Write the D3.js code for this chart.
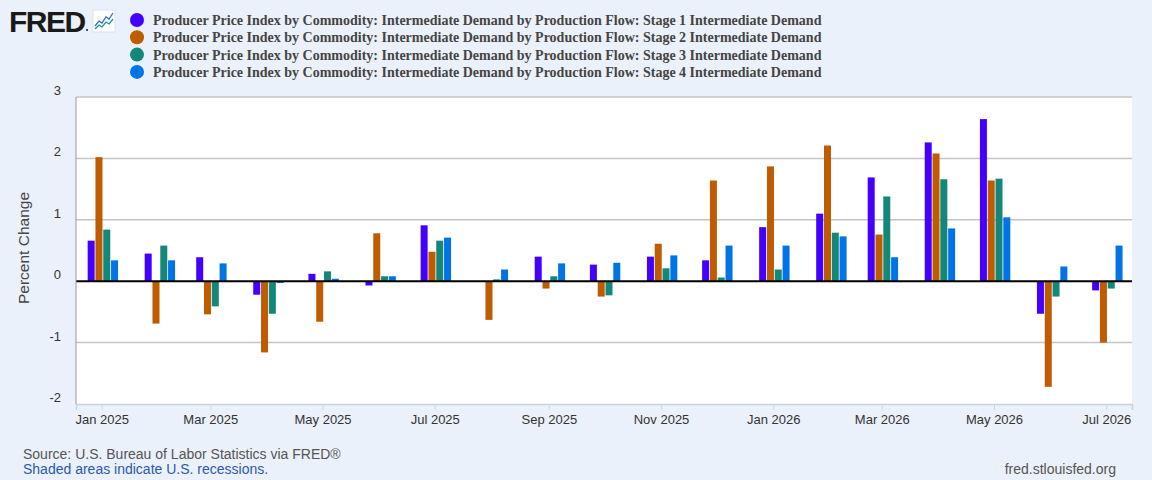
<!DOCTYPE html>
<html>
<head>
<meta charset="utf-8">
<script src="https://cdn.jsdelivr.net/npm/d3@7"></script>
<style>
  body { margin: 0; background: #eaf1fa; }
  svg { display: block; }
</style>
</head>
<body>
<svg id="chart" width="1152" height="480"></svg>
<script>
// Months shown on the chart
var months = ["2025-01","2025-02","2025-03","2025-04","2025-05","2025-06","2025-07","2025-08","2025-09","2025-10",
  "2025-11","2025-12","2026-01","2026-02","2026-03","2026-04","2026-05","2026-06","2026-07"];

// Percent change, one array per series
var stage1 = [0.66, 0.45, 0.39, -0.22, 0.12, -0.07, 0.91, 0.00, 0.40, 0.27, 0.40, 0.34, 0.88, 1.10, 1.69, 2.26, 2.64, -0.53, -0.15];
var stage2 = [2.02, -0.69, -0.54, -1.16, -0.66, 0.78, 0.48, -0.63, -0.12, -0.25, 0.61, 1.64, 1.87, 2.21, 0.76, 2.08, 1.64, -1.72, -1.00];
var stage3 = [0.84, 0.58, -0.41, -0.53, 0.16, 0.08, 0.66, 0.03, 0.08, -0.23, 0.21, 0.06, 0.19, 0.79, 1.38, 1.66, 1.67, -0.25, -0.12];
var stage4 = [0.34, 0.34, 0.29, -0.03, 0.04, 0.08, 0.71, 0.19, 0.29, 0.30, 0.42, 0.58, 0.58, 0.73, 0.39, 0.86, 1.04, 0.24, 0.58];

var seriesNames = [
  "Producer Price Index by Commodity: Intermediate Demand by Production Flow: Stage 1 Intermediate Demand",
  "Producer Price Index by Commodity: Intermediate Demand by Production Flow: Stage 2 Intermediate Demand",
  "Producer Price Index by Commodity: Intermediate Demand by Production Flow: Stage 3 Intermediate Demand",
  "Producer Price Index by Commodity: Intermediate Demand by Production Flow: Stage 4 Intermediate Demand"
];
var seriesColours = ["#4400ff", "#bf5b00", "#13877a", "#0073e6"];

var yTicks = [-2, -1, 0, 1, 2, 3];
var xTickMonths = ["2025-01","2025-03","2025-05","2025-07","2025-09","2025-11","2026-01","2026-03","2026-05","2026-07"];

var parseMonth = d3.timeParse("%Y-%m");
var allSeries = [stage1, stage2, stage3, stage4];

var svg = d3.select("#chart");
var plot = { left: 76, right: 1132, top: 97, bottom: 404 };

var x = d3.scaleTime()
  .domain([d3.timeDay.offset(parseMonth("2025-01"), -13.5), d3.timeDay.offset(parseMonth("2026-07"), 14.5)])
  .range([plot.left, plot.right]);

var y = d3.scaleLinear()
  .domain([-2, 3])
  .range([plot.bottom, plot.top]);

// plot background
svg.append("rect")
  .attr("x", plot.left).attr("y", plot.top)
  .attr("width", plot.right - plot.left).attr("height", plot.bottom - plot.top)
  .attr("fill", "white");

// grid lines
svg.append("g").selectAll("line")
  .data(yTicks.filter(function (t) { return t !== 0 && t !== -2; }))
  .enter().append("line")
  .attr("x1", plot.left).attr("x2", plot.right)
  .attr("y1", function (t) { return y(t); })
  .attr("y2", function (t) { return y(t); })
  .attr("stroke", "#c4c4c4")
  .attr("stroke-width", 1.5);

// y labels
svg.append("g").selectAll("text")
  .data(yTicks)
  .enter().append("text")
  .attr("x", 61)
  .attr("y", function (t) { return y(t) - 2; })
  .attr("text-anchor", "end")
  .attr("font-family", "Liberation Sans, Arial, sans-serif")
  .attr("font-size", 13)
  .attr("fill", "#333")
  .text(function (t) { return t; });

svg.append("text")
  .attr("transform", "translate(29,248) rotate(-90)")
  .attr("text-anchor", "middle")
  .attr("font-family", "Liberation Sans, Arial, sans-serif")
  .attr("font-size", 15.5)
  .attr("fill", "#444")
  .text("Percent Change");

// bars
var barW = 7, barStep = 7.8;
var barGroup = svg.append("g");
allSeries.forEach(function (vals, s) {
  barGroup.selectAll("rect.s" + s)
    .data(vals)
    .enter().append("rect")
    .attr("class", "s" + s)
    .attr("x", function (v, i) { return x(parseMonth(months[i])) + 1.5 - 2 * barStep + s * barStep; })
    .attr("y", function (v) { return Math.min(y(v), y(0)); })
    .attr("width", barW)
    .attr("height", function (v) { return Math.abs(y(v) - y(0)); })
    .attr("fill", seriesColours[s]);
});

// zero line
svg.append("line")
  .attr("x1", plot.left).attr("x2", plot.right)
  .attr("y1", y(0)).attr("y2", y(0))
  .attr("stroke", "black").attr("stroke-width", 2);

// axis lines
svg.append("line")
  .attr("x1", plot.left).attr("x2", plot.left)
  .attr("y1", plot.top).attr("y2", plot.bottom)
  .attr("stroke", "#999").attr("stroke-width", 1);

var xAxis = d3.axisBottom(x)
  .tickValues(xTickMonths.map(parseMonth))
  .tickFormat(d3.timeFormat("%b %Y"))
  .tickSize(6)
  .tickPadding(5);

var xg = svg.append("g")
  .attr("transform", "translate(0," + plot.bottom + ")")
  .call(xAxis);
xg.select(".domain").attr("stroke", "#c8d2e0").attr("stroke-width", 1.5);
xg.selectAll(".tick line").attr("stroke", "#ccd6eb");
xg.selectAll(".tick text")
  .attr("font-family", "Liberation Sans, Arial, sans-serif")
  .attr("font-size", 13)
  .attr("fill", "#333");

// FRED logo
svg.append("text")
  .attr("x", 9).attr("y", 32)
  .attr("font-family", "Liberation Sans, Arial, sans-serif")
  .attr("font-weight", "bold")
  .attr("font-size", 30)
  .attr("letter-spacing", -1.5)
  .attr("fill", "#1a1a1a")
  .text("FRED");
svg.append("circle").attr("cx", 87).attr("cy", 30).attr("r", 1).attr("fill", "#1a1a1a");
var icon = svg.append("g").attr("transform", "translate(93,10)");
icon.append("rect").attr("width", 22).attr("height", 22).attr("fill", "white").attr("stroke", "#dde4ee");
icon.append("path").attr("d", "M2,16 L6,11 L9,13 L13,7 L16,9 L20,3").attr("fill", "none").attr("stroke", "#2a6dd9").attr("stroke-width", 1.3);
icon.append("path").attr("d", "M2,19 L6,15 L9,17 L13,12 L16,14 L20,9").attr("fill", "none").attr("stroke", "#1a9a7e").attr("stroke-width", 1.3);

// legend
var legend = svg.append("g").selectAll("g")
  .data(seriesNames)
  .enter().append("g")
  .attr("transform", function (d, i) { return "translate(137," + (20 + i * 17.3) + ")"; });
legend.append("circle")
  .attr("r", 7)
  .attr("fill", function (d, i) { return seriesColours[i]; });
legend.append("text")
  .attr("x", 16).attr("y", 5)
  .attr("font-family", "Liberation Serif, Times New Roman, serif")
  .attr("font-weight", "bold")
  .attr("font-size", 14)
  .attr("fill", "#444")
  .text(function (d) { return d; });

// footer
svg.append("text")
  .attr("x", 23).attr("y", 459)
  .attr("font-family", "Liberation Sans, Arial, sans-serif")
  .attr("font-size", 14).attr("fill", "#555")
  .text("Source: U.S. Bureau of Labor Statistics via FRED®");
svg.append("text")
  .attr("x", 23).attr("y", 474)
  .attr("font-family", "Liberation Sans, Arial, sans-serif")
  .attr("font-size", 14).attr("fill", "#2a5ba8")
  .text("Shaded areas indicate U.S. recessions.");
svg.append("text")
  .attr("x", 1116).attr("y", 474)
  .attr("text-anchor", "end")
  .attr("font-family", "Liberation Sans, Arial, sans-serif")
  .attr("font-size", 14).attr("fill", "#555")
  .text("fred.stlouisfed.org");
</script>
</body>
</html>
